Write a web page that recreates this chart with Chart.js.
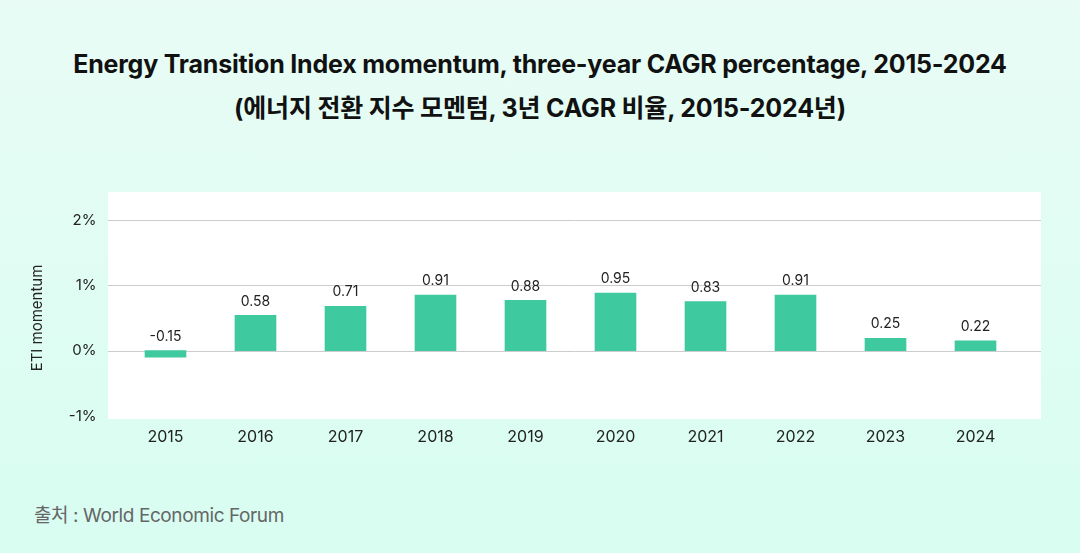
<!DOCTYPE html>
<html>
<head>
<meta charset="utf-8">
<script src="https://cdn.jsdelivr.net/npm/chart.js@4/dist/chart.umd.min.js"></script>
<style>
  html, body { margin: 0; padding: 0; }
  body {
    width: 1080px; height: 553px; position: relative; overflow: hidden;
    background: linear-gradient(180deg, #e8fcf5 0%, #d8fdf1 100%);
    font-family: Inter, "Noto Sans CJK KR", sans-serif;
  }
  .title {
    position: absolute; left: 0; width: 1080px; text-align: center;
    font-weight: 700; font-size: 25px; color: #111; letter-spacing: -0.2px;
  }
  #t1 { top: 49px; }
  #t2 { top: 88px; }
  #source {
    position: absolute; left: 34px; top: 500px;
    font-size: 19px; color: #666; letter-spacing: -0.4px;
  }
  #wrap { position: absolute; left: 0; top: 0; width: 1080px; height: 553px; }
</style>
</head>
<body>
<div class="title" id="t1">Energy Transition Index momentum, three-year CAGR percentage, 2015-2024</div>
<div class="title" id="t2">(에너지 전환 지수 모멘텀, 3년 CAGR 비율, 2015-2024년)</div>
<div id="source">출처 : World Economic Forum</div>
<div id="wrap"><canvas id="chart"></canvas></div>
<script>
const years = ['2015', '2016', '2017', '2018', '2019', '2020', '2021', '2022', '2023', '2024'];
// printed values above the bars
const momentumLabels = [-0.15, 0.58, 0.71, 0.91, 0.88, 0.95, 0.83, 0.91, 0.25, 0.22];
// bar heights as drawn in the picture (they sit a bit lower than the printed values)
const barHeights = [-0.10, 0.54, 0.68, 0.85, 0.77, 0.88, 0.75, 0.85, 0.19, 0.15];
const yTicks = [-1, 0, 1, 2];

const barColor = '#3ec99e';

// white panel + gridlines across the whole panel
const panelPlugin = {
  id: 'panel',
  beforeDraw(chart) {
    const {ctx, chartArea, scales} = chart;
    const left = chartArea.left - 12.5, right = chartArea.right + 20.5;
    const top = chartArea.top - 28, bottom = chartArea.bottom + 3;
    ctx.save();
    ctx.fillStyle = '#ffffff';
    ctx.fillRect(left, top, right - left, bottom - top);
    ctx.strokeStyle = '#cccccc';
    ctx.lineWidth = 1;
    scales.y.ticks.forEach(t => {
      if (t.value <= scales.y.min) return;
      const y = Math.round(scales.y.getPixelForValue(t.value)) + 0.5;
      ctx.beginPath();
      ctx.moveTo(left, y);
      ctx.lineTo(right, y);
      ctx.stroke();
    });
    ctx.restore();
  }
};

const valueLabels = {
  id: 'valueLabels',
  afterDatasetsDraw(chart) {
    const {ctx} = chart;
    const meta = chart.getDatasetMeta(0);
    ctx.save();
    ctx.font = '14px Inter, "Noto Sans CJK KR", sans-serif';
    ctx.fillStyle = '#222';
    ctx.textAlign = 'center';
    ctx.textBaseline = 'middle';
    meta.data.forEach((bar, i) => {
      const top = Math.min(bar.y, bar.base);
      ctx.fillText(momentumLabels[i].toFixed(2), bar.x, top - 14);
    });
    ctx.restore();
  }
};

new Chart(document.getElementById('chart'), {
  type: 'bar',
  data: {
    labels: years,
    datasets: [{
      data: barHeights,
      backgroundColor: barColor,
      barThickness: 41
    }]
  },
  options: {
    responsive: true,
    maintainAspectRatio: false,
    animation: false,
    layout: { padding: { left: 28, right: 59.5, top: 220, bottom: 100 } },
    plugins: { legend: { display: false }, tooltip: { enabled: false } },
    scales: {
      x: {
        grid: { display: false, drawTicks: false },
        border: { display: false },
        ticks: { color: '#222', font: { size: 16, family: 'Inter' }, padding: 12 },
        afterFit(scale) { scale.height = 37; }
      },
      y: {
        min: -1,
        max: 2,
        grid: { display: false, drawTicks: false },
        border: { display: false },
        afterBuildTicks(scale) { scale.ticks = yTicks.map(v => ({ value: v })); },
        ticks: {
          color: '#222',
          font: { size: 15, family: 'Inter' },
          padding: 24,
          callback: v => v + '%'
        },
        title: {
          display: true,
          text: 'ETI momentum',
          color: '#222',
          font: { size: 15, family: 'Inter' },
          padding: 0
        },
        afterFit(scale) { scale.width = 92.5; }
      }
    }
  },
  plugins: [panelPlugin, valueLabels]
});
</script>
</body>
</html>
